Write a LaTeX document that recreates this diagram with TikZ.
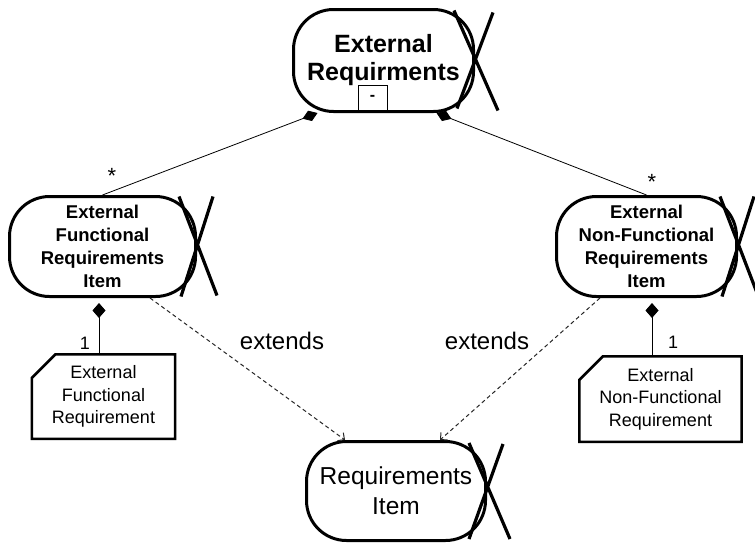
\documentclass[tikz,border=0pt]{standalone}
\usepackage{fontspec}
\setmainfont{Liberation Sans}
\usetikzlibrary{shapes.misc, arrows.meta, positioning, calc}

\begin{document}
\begin{tikzpicture}[x=1pt, y=-1pt]
        \tikzstyle{entity} = [rectangle, rounded corners=40pt, draw=black, line width=3pt, align=center, inner sep=0pt]
        \tikzstyle{cross} = [line width=3.2pt]
        \tikzstyle{attr} = [chamfered rectangle, chamfered rectangle corners=north west, chamfered rectangle xsep=20pt, draw=black, line width=2.5pt, align=center, inner sep=0pt, font=\fontsize{18}{22.5}\selectfont]
        \tikzstyle{comp} = [{Diamond[length=16pt, width=11pt]}-, line width=0.8pt]
        \tikzstyle{ext} = [-{Straight Barb[length=5pt, width=10pt]}, dash pattern=on 4pt off 3pt, line width=1pt, draw=black!85]
        \tikzstyle{mult} = [font=\fontsize{18}{18}\selectfont, inner sep=0pt]
        \tikzstyle{stereo} = [font=\fontsize{24}{24}\selectfont, inner sep=0pt]

        \useasboundingbox (0,0) rectangle (755,546);

        % Top entity
        \node (ereq) [entity, minimum width=180pt, minimum height=102pt, font=\bfseries\fontsize{25}{28}\selectfont] at (383.5,60.5) {External\\Requirments};
        \node (minus) [rectangle, draw, line width=0.8pt, minimum width=29pt, minimum height=25pt, inner sep=0pt, font=\bfseries\fontsize{16}{16}\selectfont, above=2pt of ereq.south, xshift=-11pt] {-};

        % Item entities
        \node (fitem) [entity, minimum width=186pt, minimum height=100pt, font=\bfseries\fontsize{18.5}{23}\selectfont, below=82pt of ereq, xshift=-281pt] {External\\Functional\\Requirements\\Item};
        \node (nfitem) [entity, minimum width=180pt, minimum height=100pt, font=\bfseries\fontsize{18.5}{23}\selectfont, below=82pt of ereq, xshift=263pt] {External\\Non-Functional\\Requirements\\Item};

        % Requirements
        \node (freq) [attr, minimum width=140.5pt, minimum height=84.5pt, below=55pt of fitem, xshift=1pt] {External\\Functional\\Requirement};
        \node (nfreq) [attr, minimum width=152.5pt, minimum height=85.5pt, below=57pt of nfitem, xshift=14pt] {External\\Non-Functional\\Requirement};

        % Base entity
        \node (ritem) [entity, minimum width=179pt, minimum height=99pt, font=\fontsize{24.5}{30}\selectfont, below=142pt of fitem, xshift=293.5pt] {Requirements\\Item};

        % Crosses
        \draw [cross] (ereq.east) +(18,-48) -- +(-18,48) (ereq.east) +(-21,-50) -- +(23,50);
        \draw [cross] (fitem.east) +(16,-50) -- +(-16,50) (fitem.east) +(-18,-50) -- +(20,49);
        \draw [cross] (nfitem.east) +(16,-50) -- +(-16,50) (nfitem.east) +(-18,-50) -- +(20,49);
        \draw [cross] (ritem.east) +(16,-47) -- +(-18,48) (ritem.east) +(-18,-48) -- +(23,48);

        % Composition
        \draw [comp] ([xshift=-66pt]ereq.south) -- node[mult, at end, xshift=9.5pt, yshift=19pt, font=\fontsize{22}{22}\selectfont] {*} (fitem.north);
        \draw [comp] ([xshift=53pt]ereq.south) -- node[mult, at end, xshift=5.5pt, yshift=13pt, font=\fontsize{22}{22}\selectfont] {*} (nfitem.north);
        \draw [comp, {Diamond[length=15pt, width=13pt]}-, shorten <=5pt] ([xshift=-3.5pt]fitem.south) -- node[mult, pos=0.82, xshift=-14pt] {1} ([xshift=-4.5pt]freq.north);
        \draw [comp, {Diamond[length=15pt, width=13pt]}-, shorten <=5pt] ([xshift=5.5pt]nfitem.south) -- node[mult, pos=0.77, xshift=21pt] {1} ([xshift=-8.5pt]nfreq.north);

        % Extends
        \draw [ext] ([xshift=47.5pt]fitem.south) -- node[stereo, pos=0.3, xshift=73.5pt] {extends} ([xshift=-51pt]ritem.north);
        \draw [ext] ([xshift=-46.5pt]nfitem.south) -- node[stereo, pos=0.3, xshift=-65pt] {extends} ([xshift=44pt]ritem.north);
    \end{tikzpicture}
\end{document}
